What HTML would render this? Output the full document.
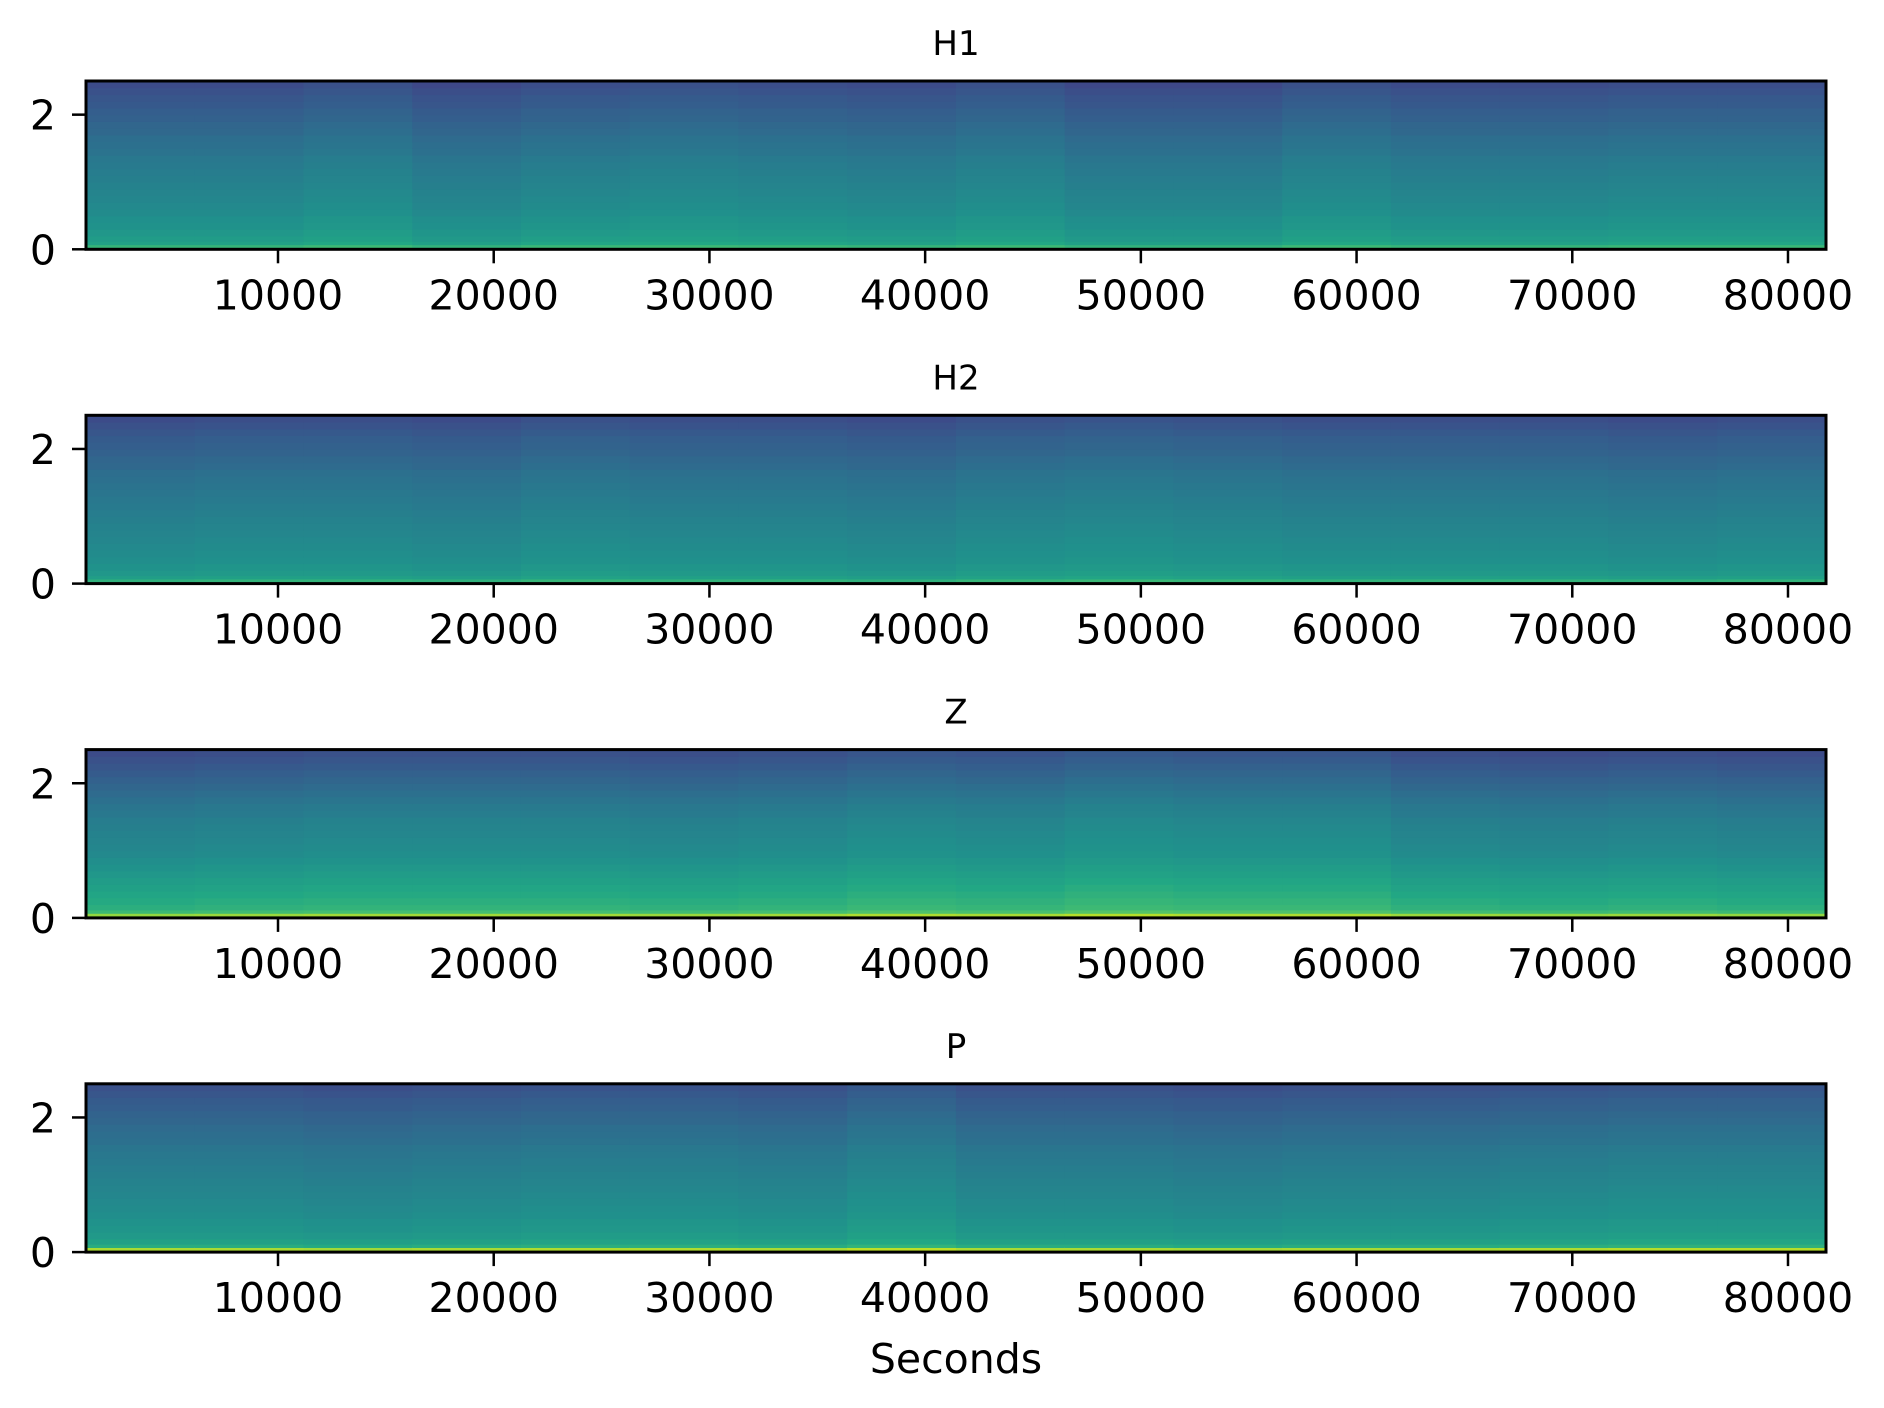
<!DOCTYPE html>
<html><head><meta charset="utf-8"><style>
html,body{margin:0;padding:0;background:#fff;}
svg{display:block;font-family:"DejaVu Sans","Liberation Sans",sans-serif;}
</style></head><body>
<svg id="fig" width="1884" height="1408" viewBox="0 0 1884 1408" xmlns="http://www.w3.org/2000/svg"></svg>
<script>
// ---- data ----
const panelTitles = ["H1","H2","Z","P"];
const segmentCenters = [3620,8661,13702,18743,23784,28825,33866,38907,43948,48989,54030,59071,64112,69153,74194,79235];
const segmentWidth = 5041;
const freqEdges = [0,0.07,0.12,0.2,0.3,0.4,0.5,0.6,0.7,0.8,0.9,1.0,1.1,1.2,1.3,1.4,1.5,1.6,1.7,1.8,1.9,2.0,2.1,2.2,2.3,2.4,2.5];
// normalized power (viridis scale) per frequency bin, low -> high
const profileH1 = [0.66,0.58,0.55,0.53,0.51,0.50,0.48,0.47,0.46,0.45,0.44,0.43,0.42,0.41,0.40,0.38,0.37,0.36,0.34,0.33,0.31,0.30,0.28,0.27,0.25,0.23];
const profileH2 = [0.64,0.56,0.53,0.51,0.49,0.48,0.47,0.46,0.45,0.44,0.43,0.42,0.41,0.40,0.39,0.38,0.37,0.36,0.34,0.33,0.31,0.30,0.29,0.27,0.25,0.23];
const profileZ  = [0.86,0.70,0.65,0.63,0.61,0.59,0.57,0.55,0.53,0.51,0.49,0.48,0.47,0.46,0.45,0.44,0.42,0.41,0.39,0.37,0.35,0.33,0.31,0.29,0.27,0.25];
const profileP  = [0.87,0.62,0.57,0.54,0.52,0.51,0.49,0.48,0.47,0.46,0.45,0.44,0.43,0.42,0.41,0.40,0.39,0.37,0.36,0.35,0.33,0.32,0.30,0.29,0.27,0.25];
// per-segment offsets
const offsetH1 = [0.00,0.00,0.02,-0.01,0.01,0.02,0.01,0.00,0.02,-0.01,-0.01,0.02,0.00,0.00,0.01,0.01];
const offsetH2 = [0.00,0.01,0.01,0.00,0.02,0.01,0.01,0.00,0.02,0.03,0.02,0.01,0.01,0.01,0.00,0.01];
const offsetZ  = [-0.02,-0.01,0.00,0.00,0.00,-0.01,0.00,0.02,0.01,0.03,0.02,0.02,-0.01,-0.02,-0.01,-0.02];
const offsetP  = [0.00,0.00,-0.01,0.00,0.01,0.01,0.00,0.03,0.00,0.00,-0.01,0.00,0.00,0.01,0.02,0.02];
const profiles = [profileH1,profileH2,profileZ,profileP];
const offsets = [offsetH1,offsetH2,offsetZ,offsetP];
const xTicks = [10000,20000,30000,40000,50000,60000,70000,80000];
const yTicks = [0,2];

// ---- layout ----
const L=86, R=1826, xMin=1099, xMax=81762, yMax=2.5;
const tops=[81,415.3,749.6,1083.8], H=168.3;
const xs = v => L + (v-xMin)/(xMax-xMin)*(R-L);
const vir=[[0,68,1,84],[0.1,72,35,116],[0.2,64,67,135],[0.3,52,94,141],[0.4,41,120,142],[0.5,32,144,140],[0.6,34,167,132],[0.7,68,190,112],[0.8,121,209,81],[0.9,189,223,38],[1,253,231,37]];
function viridis(t){t=Math.max(0,Math.min(1,t));for(let i=1;i<vir.length;i++){if(t<=vir[i][0]){const a=vir[i-1],b=vir[i],f=(t-a[0])/(b[0]-a[0]);return `rgb(${Math.round(a[1]+f*(b[1]-a[1]))},${Math.round(a[2]+f*(b[2]-a[2]))},${Math.round(a[3]+f*(b[3]-a[3]))})`;}}return "rgb(253,231,37)";}
const NS="http://www.w3.org/2000/svg", svg=document.getElementById("fig");
function mk(tag,attrs,parent){const e=document.createElementNS(NS,tag);for(const k in attrs)e.setAttribute(k,attrs[k]);(parent||svg).appendChild(e);return e;}

panelTitles.forEach((title,p)=>{
  const top=tops[p], bot=top+H, ys=v=>bot-v/yMax*H;
  const g=mk("g",{});
  
  
  const clipId="c"+p;
  const cp=mk("clipPath",{id:clipId},g); mk("rect",{x:L,y:top,width:R-L,height:H},cp);
  const heat=mk("g",{"clip-path":`url(#${clipId})`},g);
  
  
  segmentCenters.forEach((c,s)=>{
    const x0=xs(c-segmentWidth/2), x1=xs(c+segmentWidth/2);
    profiles[p].forEach((v,f)=>{
      const y0=ys(freqEdges[f+1]), y1=ys(freqEdges[f]);
      const r=mk("rect",{x:x0,y:y0,width:x1-x0+0.6,height:y1-y0+0.6,fill:viridis(v+offsets[p][s])},heat);
      
      
    });
  });
  const fr=mk("rect",{x:L,y:top,width:R-L,height:H,fill:"none",stroke:"#000","stroke-width":3},g);
  
  
  const t=mk("text",{x:956,y:top-26,"text-anchor":"middle","font-size":34},g); t.textContent=title;
  
  
  xTicks.forEach(v=>{
    const x=xs(v);
    mk("line",{x1:x,x2:x,y1:bot,y2:bot+14,stroke:"#000","stroke-width":2.5},g);
    const lb=mk("text",{x:x,y:bot+60,"text-anchor":"middle","font-size":41},g); lb.textContent=v;
    
    
  });
  yTicks.forEach(v=>{
    const y=ys(v);
    mk("line",{x1:L-14,x2:L,y1:y,y2:y,stroke:"#000","stroke-width":2.5},g);
    const lb=mk("text",{x:L-30,y:y+15,"text-anchor":"end","font-size":41},g); lb.textContent=v;
    
    
  });
});
const xl=mk("text",{x:956,y:1373,"text-anchor":"middle","font-size":41}); xl.textContent="Seconds";


</script>
</body></html>
